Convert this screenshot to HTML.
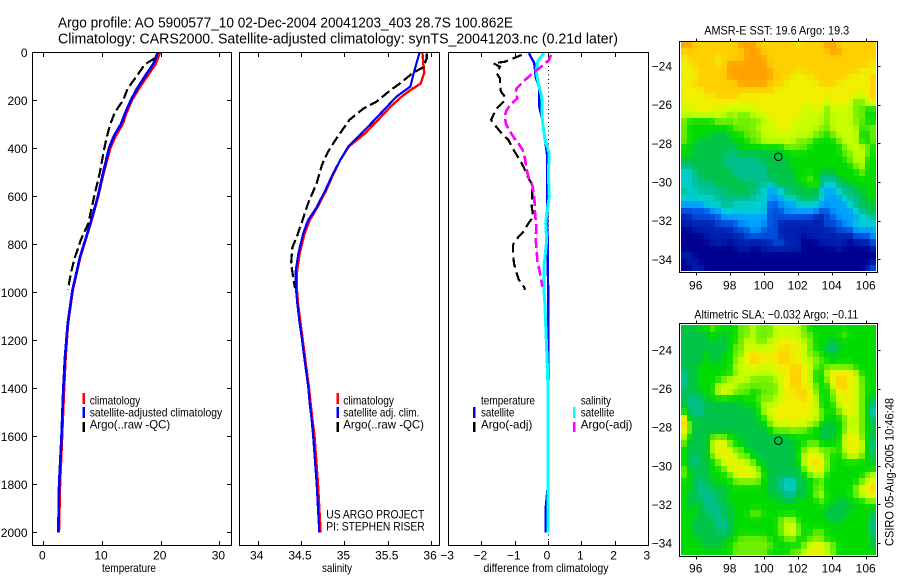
<!DOCTYPE html>
<html lang="en">
<head>
<meta charset="utf-8">
<title>Argo profile 5900577_10</title>
<style>
html,body{margin:0;padding:0;background:#fff;}
svg{display:block;}
text{font-family:"Liberation Sans",sans-serif;font-size:12px;fill:#000;}
.box{fill:none;stroke:#000;stroke-width:1;shape-rendering:crispEdges;}
.bar{stroke-width:2.5;shape-rendering:crispEdges;}
</style>
</head>
<body>
<svg id="chart" xmlns="http://www.w3.org/2000/svg" width="900" height="580" viewBox="0 0 900 580">
  <rect x="0" y="0" width="900" height="580" fill="#fff"/>
  <text x="58" y="27.5" style="font-size:14.5px" textLength="455" lengthAdjust="spacingAndGlyphs">Argo profile: AO 5900577_10 02-Dec-2004 20041203_403 28.7S 100.862E</text>
  <text x="58" y="43.5" style="font-size:14.5px" textLength="560" lengthAdjust="spacingAndGlyphs">Climatology: CARS2000. Satellite-adjusted climatology: synTS_20041203.nc (0.21d later)</text>

  <g id="layer-maps"></g>
  <g id="layer-lines"></g>
  <g id="layer-axes"></g>

  <rect class="box" x="32.5" y="52.5" width="199" height="493"/>
  <rect class="box" x="239.5" y="52.5" width="200" height="493"/>
  <rect class="box" x="448.5" y="52.5" width="200" height="493"/>
  <rect class="box" x="679.5" y="41.5" width="198" height="231"/>
  <rect class="box" x="679.5" y="323.5" width="198" height="233"/>

  <text x="129" y="572" text-anchor="middle" textLength="54" lengthAdjust="spacingAndGlyphs">temperature</text>
  <text x="337" y="572" text-anchor="middle" textLength="30" lengthAdjust="spacingAndGlyphs">salinity</text>
  <text x="546" y="572" text-anchor="middle" textLength="125" lengthAdjust="spacingAndGlyphs">difference from climatology</text>

  <g>
    <line class="bar" x1="83.5" x2="83.5" y1="393" y2="404" stroke="#ff0000"/>
    <line class="bar" x1="83.5" x2="83.5" y1="407" y2="418" stroke="#0000ff"/>
    <line class="bar" x1="83.5" x2="83.5" y1="422" y2="432" stroke="#000"/>
    <text x="89.7" y="404.5" textLength="50.5" lengthAdjust="spacingAndGlyphs">climatology</text>
    <text x="89.7" y="416.5" textLength="132.5" lengthAdjust="spacingAndGlyphs">satellite-adjusted climatology</text>
    <text x="89.7" y="428.5" textLength="80.5" lengthAdjust="spacingAndGlyphs">Argo(..raw -QC)</text>
  </g>
  <g>
    <line class="bar" x1="337.7" x2="337.7" y1="393" y2="404" stroke="#ff0000"/>
    <line class="bar" x1="337.7" x2="337.7" y1="407" y2="418" stroke="#0000ff"/>
    <line class="bar" x1="337.7" x2="337.7" y1="422" y2="432" stroke="#000"/>
    <text x="343.3" y="404.5" textLength="50.7" lengthAdjust="spacingAndGlyphs">climatology</text>
    <text x="343.3" y="416.5" textLength="76" lengthAdjust="spacingAndGlyphs">satellite adj. clim.</text>
    <text x="343.3" y="428.5" textLength="80.7" lengthAdjust="spacingAndGlyphs">Argo(..raw -QC)</text>
  </g>
  <text x="326.3" y="518.5" textLength="98" lengthAdjust="spacingAndGlyphs">US ARGO PROJECT</text>
  <text x="326.3" y="530.5" textLength="98.4" lengthAdjust="spacingAndGlyphs">PI: STEPHEN RISER</text>

  <g>
    <line class="bar" x1="474" x2="474" y1="407" y2="418" stroke="#0000ff"/>
    <line class="bar" x1="474" x2="474" y1="422" y2="432" stroke="#000"/>
    <text x="481" y="404.5" textLength="54" lengthAdjust="spacingAndGlyphs">temperature</text>
    <text x="481" y="416.5" textLength="33.3" lengthAdjust="spacingAndGlyphs">satellite</text>
    <text x="481" y="428.5" textLength="51.3" lengthAdjust="spacingAndGlyphs">Argo(-adj)</text>
    <line class="bar" x1="574" x2="574" y1="407" y2="418" stroke="#00ffff"/>
    <line class="bar" x1="574" x2="574" y1="422" y2="432" stroke="#ff00ff"/>
    <text x="580.7" y="404.5" textLength="30.3" lengthAdjust="spacingAndGlyphs">salinity</text>
    <text x="580.7" y="416.5" textLength="33.7" lengthAdjust="spacingAndGlyphs">satellite</text>
    <text x="580.7" y="428.5" textLength="51.7" lengthAdjust="spacingAndGlyphs">Argo(-adj)</text>
  </g>

  <text x="776.7" y="34.5" text-anchor="middle" textLength="145" lengthAdjust="spacingAndGlyphs">AMSR-E SST: 19.6 Argo: 19.3</text>
  <text x="776.3" y="318.5" text-anchor="middle" textLength="164" lengthAdjust="spacingAndGlyphs">Altimetric SLA: −0.032 Argo: −0.11</text>
  <text transform="translate(893.5,472) rotate(-90)" text-anchor="middle" textLength="148" lengthAdjust="spacingAndGlyphs">CSIRO 05-Aug-2005 10:46:48</text>
</svg>

<script>
/* ---------- profile data ---------- */
const climTempDepths = [0,50,100,150,200,250,300,350,400,500,600,714,853,992,1131,1270,1400,1600,1800,2000];
const climTempValues = [19.9,19.1,17.7,16.3,15.1,14.2,13.5,12.3,11.4,10.3,9.35,8.05,6.3,5.0,4.2,3.8,3.55,3.2,2.85,2.65];
const satTempValues  = [19.5,18.7,17.3,16.0,14.9,14.0,13.2,12.0,11.2,10.2,9.3,8.0,6.25,4.95,4.15,3.7,3.4,3.1,2.7,2.55];
const argoTempDepths = [25,50,100,150,200,250,300,350,400,500,596,714,783,853,906,963,988];
const argoTempValues = [19.0,17.3,15.9,14.4,13.6,12.2,11.4,10.85,10.4,9.65,8.7,7.65,6.37,5.4,4.84,4.37,4.25];

const satSalDepths = [3,86,143,185,227,281,337,393,450,505,575,645,700,755,838,908,977,1046,1117,1188,1254,1325,1396,1463,1525,1600,1800,2000];
const satSalValues = [35.865,35.8,35.76,35.6,35.49,35.35,35.2,35.045,34.95,34.87,34.78,34.68,34.58,34.525,34.47,34.44,34.44,34.457,34.48,34.507,34.53,34.557,34.584,34.6,34.62,34.64,34.68,34.71];
const climSalDepths = [3,86,130,158,185,227,281,337,393,450,505,575,645,700,755,838,908,977,1046,1117,1188,1254,1325,1396,1463,1525,1600,1800,2000];
const climSalValues = [35.9,35.92,35.88,35.76,35.66,35.53,35.39,35.24,35.05,34.95,34.875,34.79,34.69,34.6,34.54,34.485,34.455,34.45,34.465,34.49,34.515,34.54,34.565,34.59,34.61,34.63,34.655,34.695,34.725];
const argoSalDepths = [5,25,62,86,130,158,206,234,281,358,415,470,545,630,707,770,812,880,937,983];
const argoSalValues = [35.95,35.95,35.91,35.79,35.64,35.53,35.37,35.22,35.06,34.91,34.81,34.74,34.68,34.58,34.51,34.45,34.40,34.385,34.41,34.43];

const diffSatTempDepths = [4,46,102,150,227,282,338,393,435,643,836,1060,1400,1600,1800,1900,2000];
const diffSatTempValues = [-0.57,-0.41,-0.37,-0.26,-0.26,-0.17,-0.12,-0.06,-0.02,-0.02,-0.01,0.01,0.01,0.01,0,-0.07,-0.07];
const diffSatSalDepths = [4,32,74,130,185,282,365,421,504,602,671,713,782,893,990,1060,1200,1300,1400,2000];
const diffSatSalValues = [-0.12,-0.29,-0.36,-0.29,-0.19,-0.17,-0.09,0.04,0.01,0.04,-0.04,-0.07,-0.04,-0.12,-0.12,-0.09,-0.05,-0.02,0,0];
const diffArgoTempDepths = [11,25,39,46,60,88,109,136,164,185,206,234,261,282,313,338,365,393,428,449,484,518,553,588,643,685,713,747,782,803,838,880,921,949,977,990];
const diffArgoTempValues = [-0.79,-1.04,-1.29,-1.64,-1.44,-1.54,-1.44,-1.44,-1.41,-1.29,-1.34,-1.54,-1.64,-1.71,-1.54,-1.39,-1.19,-1.09,-0.94,-0.84,-0.71,-0.61,-0.47,-0.47,-0.49,-0.44,-0.59,-0.74,-0.97,-1.05,-1.05,-1.02,-0.94,-0.87,-0.72,-0.69];
const diffArgoSalDepths = [11,32,53,74,88,116,150,164,192,213,240,261,296,324,352,380,407,442,477,518,553,602,671,727,782,824,866,907,935,977];
const diffArgoSalValues = [0.09,0.03,-0.14,-0.34,-0.47,-0.69,-0.94,-0.97,-0.92,-1.09,-1.24,-1.29,-1.27,-1.17,-1.04,-0.89,-0.76,-0.69,-0.66,-0.59,-0.47,-0.41,-0.39,-0.35,-0.37,-0.34,-0.32,-0.26,-0.22,-0.17];

/* ---------- tick labels ---------- */
const depthTicks = [0,200,400,600,800,1000,1200,1400,1600,1800,2000];
const tempTicks = [0,10,20,30];
const salTicks = [34,34.5,35,35.5,36];
const diffTicks = [-3,-2,-1,0,1,2,3];
const lonTicks = [96,98,100,102,104,106];
const latTicks = [-24,-26,-28,-30,-32,-34];
const floatLon = [100.862];
const floatLat = [-28.7];

/* ---------- map grids: colour level per cell, north to south ---------- */
const sstGrid = [
[12,12,11,11,11,11,11,11,11,11,12,12,12,11,11,11,11,11,11,11,10,11,11,11,11,12,12,11,11,11,11,11,11,11],
[11,11,11,11,11,11,11,11,11,11,11,12,12,12,11,11,11,11,11,11,11,11,11,11,11,11,12,12,11,11,11,11,11,11],
[10,11,11,11,11,11,10,11,11,11,11,12,12,12,12,11,11,11,11,11,11,11,11,11,11,11,11,11,11,11,11,11,11,11],
[10,10,11,11,11,11,10,11,12,12,12,12,12,12,12,11,11,11,11,11,11,11,11,11,11,11,11,11,11,11,11,11,11,10],
[10,10,10,11,11,11,11,11,12,12,12,12,12,12,12,12,11,11,11,11,10,11,11,11,11,11,11,11,11,11,11,10,10,10],
[10,10,10,11,11,11,11,11,12,12,12,12,12,12,12,12,11,11,11,10,10,10,10,11,11,11,11,11,11,10,10,10,10,11],
[10,10,11,11,11,11,11,11,11,11,12,12,12,12,12,11,11,11,10,10,10,10,10,10,11,11,11,10,10,10,10,10,10,11],
[10,10,10,10,11,11,11,11,11,11,11,11,11,11,11,11,10,10,10,10,10,10,10,10,10,10,10,10,10,10,10,10,10,11],
[10,10,10,10,10,10,11,11,11,11,10,10,10,10,10,10,10,10,10,10,10,10,10,10,10,10,10,10,10,10,9,9,10,11],
[10,10,10,10,10,10,10,10,10,10,10,10,10,10,10,10,10,10,10,10,10,10,10,10,10,9,10,10,10,9,8,8,9,10],
[9,9,10,10,10,10,10,9,9,9,9,9,9,10,10,10,10,10,10,10,10,9,9,10,9,8,9,9,9,9,8,8,7,7],
[9,9,9,9,9,9,9,9,8,9,8,8,9,9,9,10,10,10,10,10,10,9,9,9,9,8,9,9,9,9,8,8,7,7],
[8,7,7,7,7,7,8,8,8,8,8,8,8,8,9,9,10,10,10,10,9,9,9,9,9,8,9,9,9,9,8,8,7,7],
[8,7,7,7,7,7,7,7,7,8,8,8,8,9,9,9,9,10,10,9,9,9,9,9,8,8,9,9,9,9,9,7,8,8],
[8,7,7,7,7,6,6,6,7,7,7,8,8,8,9,9,9,9,9,9,9,9,9,8,8,7,8,9,9,9,9,7,7,8],
[8,7,7,6,6,6,6,6,6,7,7,7,8,8,9,9,9,9,9,9,8,8,8,7,7,7,7,8,9,9,9,7,7,8],
[7,7,6,6,6,6,6,6,6,6,7,7,7,7,7,7,7,7,8,8,8,8,7,7,7,7,7,7,8,9,9,9,8,7],
[7,7,6,6,6,6,6,6,5,5,6,6,6,6,6,6,6,6,7,7,7,7,7,7,7,7,7,7,8,8,9,9,8,7],
[6,6,6,6,6,6,6,5,5,5,5,5,5,5,6,6,6,6,6,7,7,7,7,7,7,7,7,7,7,8,9,9,7,7],
[5,5,6,6,6,6,6,6,5,5,5,5,5,5,5,6,6,6,6,7,7,7,7,7,7,7,7,7,7,7,8,9,7,7],
[4,4,5,6,6,6,6,6,6,5,5,5,5,5,5,6,6,6,6,6,7,7,7,7,6,6,6,7,7,7,7,8,7,7],
[4,4,5,5,6,6,6,6,6,6,5,5,5,5,5,6,6,6,6,6,7,7,8,7,5,5,5,6,7,7,7,7,7,7],
[4,4,5,5,5,5,6,6,6,6,6,6,6,5,5,4,5,6,6,6,6,7,7,8,5,4,4,5,6,6,7,7,7,7],
[5,4,4,5,5,5,5,5,6,6,6,6,5,5,4,3,3,4,5,6,6,6,6,6,4,3,3,4,5,5,6,6,7,7],
[4,4,4,4,4,4,5,5,5,5,5,5,5,4,4,3,3,3,4,4,5,6,6,5,4,3,3,3,4,5,5,6,6,7],
[3,3,3,3,4,4,4,5,5,4,4,4,4,4,4,2,2,3,3,3,4,4,4,4,3,3,3,3,3,4,5,6,6,6],
[2,2,2,2,2,3,3,4,4,4,4,4,4,4,4,2,2,2,3,3,3,3,3,3,2,2,3,3,3,3,4,5,6,6],
[1,1,2,2,2,2,2,3,3,3,3,3,3,3,3,2,2,2,2,2,2,2,2,1,1,2,2,3,3,3,3,4,4,5],
[1,1,1,1,1,1,2,2,2,2,3,3,3,3,3,2,2,1,1,1,1,1,1,1,1,2,2,2,3,3,4,4,4,4],
[0,0,1,1,1,1,1,1,1,2,2,2,3,3,2,2,2,1,1,1,1,1,1,1,1,1,1,2,2,2,3,3,3,3],
[0,0,0,0,1,1,1,1,1,1,1,2,2,2,2,2,2,1,1,1,1,0,1,1,1,1,1,1,1,1,2,2,2,3],
[0,0,0,0,0,1,1,1,0,1,1,1,1,1,1,1,2,2,1,1,1,0,0,0,1,1,1,1,1,0,1,1,1,2],
[0,0,0,0,0,0,0,0,0,0,1,1,0,0,1,1,1,1,1,1,1,0,0,0,0,0,0,1,0,0,0,0,0,1],
[1,1,0,0,0,0,0,0,0,0,0,0,0,0,0,0,0,0,0,0,0,0,0,0,0,0,0,0,0,0,0,0,0,0],
[0,1,1,0,0,0,0,0,0,0,0,0,0,0,0,0,0,0,0,0,0,0,0,0,0,0,0,0,0,0,0,0,0,1],
[0,0,1,1,0,0,0,0,0,0,0,0,0,0,0,0,0,0,0,0,0,0,0,0,0,0,0,0,0,0,0,0,1,2]
];
const slaGrid = [
[6,6,6,7,7,8,7,7,7,7,8,8,9,8,8,8,9,9,9,9,9,8,7,7,7,7,7,7,7,7,7,7,7,7],
[6,6,6,6,6,7,7,6,7,7,8,8,9,8,8,8,9,9,9,9,9,8,8,7,7,7,7,7,8,7,7,7,7,7],
[6,6,6,6,6,7,6,6,7,7,8,9,9,8,8,9,9,10,10,10,9,9,8,7,7,7,6,7,7,7,7,7,7,7],
[6,6,6,6,6,6,6,6,7,8,8,9,9,9,9,9,10,10,11,10,10,9,8,7,7,6,5,6,7,7,7,7,7,7],
[6,6,6,6,7,6,6,7,7,8,8,10,11,10,10,10,10,11,11,10,10,9,8,8,7,7,6,7,7,7,7,7,7,7],
[6,6,6,6,7,6,6,7,7,8,9,10,11,11,10,10,10,11,11,10,10,9,9,8,8,7,7,7,7,7,7,7,7,7],
[6,6,6,7,7,7,7,7,7,9,9,9,10,9,9,9,10,10,10,11,11,10,9,8,7,8,8,8,8,8,7,7,7,7],
[5,6,6,7,7,7,7,7,7,8,9,9,9,9,9,9,9,10,10,11,11,10,9,7,7,9,10,10,10,10,9,7,7,7],
[5,6,6,7,7,7,7,8,9,9,9,9,8,8,8,8,9,9,10,11,11,10,9,7,7,8,10,11,11,10,9,8,7,7],
[5,6,6,7,7,7,9,9,9,9,8,8,8,8,8,8,8,9,10,11,11,10,9,8,7,7,9,11,11,10,9,8,7,7],
[6,6,6,6,7,7,9,10,9,8,8,8,7,7,8,8,8,9,10,10,11,11,10,8,7,7,8,10,10,10,9,8,7,7],
[6,5,5,6,6,7,7,7,7,7,7,7,7,8,8,8,9,9,10,10,10,11,10,9,7,7,8,9,10,10,9,8,7,6],
[6,5,5,5,6,6,6,6,6,6,6,7,7,7,9,9,9,10,10,10,10,10,10,9,7,7,7,9,10,10,9,8,7,5],
[7,6,5,5,6,6,6,6,6,6,6,6,6,7,9,9,10,10,10,10,10,10,10,9,8,7,7,8,9,10,9,8,7,4],
[11,6,6,6,6,6,6,6,6,6,6,6,6,7,7,9,10,10,10,10,10,10,9,9,8,7,7,7,8,9,9,8,7,5],
[11,8,6,6,6,6,6,6,6,6,6,6,6,6,7,8,9,9,9,10,9,9,9,8,7,6,6,7,8,9,9,8,7,6],
[10,8,6,6,6,6,6,6,6,6,6,6,6,6,6,7,8,8,8,8,8,8,7,7,6,6,6,7,8,9,9,8,7,6],
[9,7,6,6,6,8,8,8,7,7,6,6,6,6,6,6,6,6,6,7,7,7,7,7,6,6,6,7,9,10,10,8,7,6],
[8,6,6,6,6,9,10,10,8,7,7,6,6,6,6,6,6,6,6,6,7,7,8,8,7,7,7,7,9,10,10,9,7,5],
[7,6,6,6,6,9,10,10,9,8,8,7,6,6,6,6,6,6,6,6,7,8,9,9,8,8,8,7,9,10,10,9,7,5],
[7,6,5,6,6,8,9,10,10,9,8,8,7,6,6,6,6,6,6,6,7,9,10,10,9,8,7,7,8,9,9,8,7,6],
[7,6,5,6,6,7,8,9,10,10,9,9,8,7,6,6,6,6,6,6,7,9,10,11,10,8,7,7,7,7,7,7,7,6],
[8,6,6,6,6,7,7,8,9,10,10,10,9,8,7,6,6,6,6,6,6,8,9,10,10,8,7,7,7,7,7,7,7,7],
[8,7,6,6,6,7,7,7,8,9,10,10,10,9,7,6,6,6,6,6,6,7,8,9,9,7,7,7,7,7,7,7,8,9],
[7,7,6,5,6,6,7,7,7,8,8,8,8,8,7,6,6,5,4,4,6,6,7,7,8,7,7,7,7,7,7,8,9,10],
[7,7,6,5,5,6,6,6,7,7,7,7,7,7,7,6,6,5,4,4,6,6,7,8,8,7,7,7,7,7,8,10,10,11],
[7,6,6,5,5,5,6,6,7,7,7,7,7,7,7,6,6,6,5,5,6,6,7,8,9,7,7,7,7,7,8,9,10,10],
[7,6,6,6,5,5,6,6,7,7,7,7,7,7,7,7,7,6,6,6,7,7,7,7,8,7,7,6,6,7,7,7,8,8],
[7,6,7,6,5,5,5,6,6,7,7,7,7,7,7,7,7,7,7,7,7,7,7,7,7,7,6,6,6,6,7,7,7,7],
[7,7,7,6,6,5,5,6,6,7,7,7,8,8,7,7,7,7,7,7,7,7,7,7,7,6,6,6,6,7,7,7,7,6],
[7,7,6,6,6,6,5,5,6,7,7,7,7,7,7,7,7,8,9,9,7,7,7,7,7,7,6,6,7,7,7,7,7,5],
[7,7,6,6,6,6,5,5,6,7,7,7,7,7,7,7,7,8,9,9,8,7,7,7,7,7,7,7,7,7,7,7,7,5],
[7,7,6,6,6,6,6,5,6,7,7,7,7,7,7,7,7,8,9,10,8,7,7,8,8,7,7,7,7,7,7,7,7,5],
[7,7,7,6,6,6,6,6,7,7,8,8,8,8,8,7,7,7,8,8,7,7,8,8,8,7,7,7,7,7,7,7,7,6],
[7,7,7,7,6,6,6,7,7,8,8,8,8,8,8,8,7,7,7,7,7,8,9,10,10,9,8,7,7,7,7,7,7,6],
[7,7,7,7,7,7,7,7,7,8,8,8,8,8,8,7,7,7,7,8,8,9,10,10,9,9,8,7,7,7,7,7,7,7]
];

/* ---------- axis functions ---------- */
const NS = 'http://www.w3.org/2000/svg';
const depthY = d => 52.3 + d * 0.24;
const tempX = t => 43.3 + t * 5.87;
const salX = s => 257.7 + (s - 34) * 86.7;
const diffX = v => 548 + v * 33.3;
const lonX = lon => 695.7 + (lon - 96) * 17;
const sstLatY = lat => 66 + (-24 - lat) * 19.33;
const slaLatY = lat => 350 + (-24 - lat) * 19.3;

/* Continuous colour scale over the level range */
function levelColor(level) {
  const palette = [[0,0,144],[0,32,176],[0,80,224],[0,160,255],[0,208,208],[0,192,144],[0,196,72],[0,220,0],[112,240,0],[200,255,0],[240,240,0],[255,208,0],[255,160,0]];
  const low = Math.max(0, Math.min(palette.length - 1, Math.floor(level)));
  const high = Math.min(palette.length - 1, low + 1);
  const f = level - low;
  const mix = palette[low].map((v, i) => Math.round(v + (palette[high][i] - v) * f));
  return 'rgb(' + mix.join(',') + ')';
}
/* Softens the cell edge against its four neighbours, as the source image does */
function displayLevel(grid, r, c) {
  const at = (rr, cc) => grid[Math.max(0, Math.min(grid.length - 1, rr))][Math.max(0, Math.min(grid[0].length - 1, cc))];
  return (4 * at(r, c) + at(r - 1, c) + at(r + 1, c) + at(r, c - 1) + at(r, c + 1)) / 8;
}
function make(tag, attrs, parent) {
  const node = document.createElementNS(NS, tag);
  for (const key in attrs) node.setAttribute(key, attrs[key]);
  parent.appendChild(node);
  return node;
}

const linesLayer = document.getElementById('layer-lines');
const axesLayer = document.getElementById('layer-axes');
const mapsLayer = document.getElementById('layer-maps');

/* ---------- series ---------- */
function drawSeries(name, depths, values, xFn, color, width, dash) {
  const pts = depths.map((d, i) => xFn(values[i]).toFixed(1) + ',' + depthY(d).toFixed(1)).join(' ');
  const line = make('polyline', {points: pts, fill: 'none', stroke: color, 'stroke-width': width, 'shape-rendering': 'crispEdges'}, linesLayer);
  if (dash) line.setAttribute('stroke-dasharray', dash);
  
  
}

const zeroLine = make('line', {x1: diffX(0) + 0.5, x2: diffX(0) + 0.5, y1: 53, y2: 545, stroke: '#000', 'stroke-width': 1, 'stroke-dasharray': '1 3.3', 'shape-rendering': 'crispEdges'}, linesLayer);



drawSeries('temperature-climatology-line', climTempDepths, climTempValues, tempX, '#ff0000', 2.6);
drawSeries('temperature-satellite-line', climTempDepths, satTempValues, tempX, '#0000ff', 2.6);
drawSeries('temperature-argo-line', argoTempDepths, argoTempValues, tempX, '#000', 2.2, '10 4');
drawSeries('salinity-climatology-line', climSalDepths, climSalValues, salX, '#ff0000', 2.4);
drawSeries('salinity-satellite-line', satSalDepths, satSalValues, salX, '#0000ff', 2.2);
drawSeries('salinity-argo-line', argoSalDepths, argoSalValues, salX, '#000', 2.2, '10 4');
drawSeries('difference-temperature-satellite-line', diffSatTempDepths, diffSatTempValues, diffX, '#0000ff', 2.4);
drawSeries('difference-salinity-satellite-line', diffSatSalDepths, diffSatSalValues, diffX, '#00ffff', 3);
drawSeries('difference-temperature-argo-line', diffArgoTempDepths, diffArgoTempValues, diffX, '#000', 2.2, '10 5');
drawSeries('difference-salinity-argo-line', diffArgoSalDepths, diffArgoSalValues, diffX, '#ff00ff', 2.6, '10 4');

/* ---------- ticks and labels ---------- */
function tick(name, x1, y1, x2, y2) {
  const t = make('line', {x1: x1, y1: y1, x2: x2, y2: y2, stroke: '#000', 'stroke-width': 1, 'shape-rendering': 'crispEdges'}, axesLayer);
  
  
}
function label(name, x, y, anchor, str) {
  const t = make('text', {x: x, y: y, 'text-anchor': anchor}, axesLayer);
  t.textContent = str;
  
  
}
function px(v) { return Math.round(v) + 0.5; }
function fmt(v) { return v < 0 ? '\u2212' + Math.abs(v) : String(v); }

depthTicks.forEach(d => {
  const y = px(depthY(d));
  tick('depth-tick', 32.5, y, 37, y);
  tick('depth-tick-right', 231.5, y, 227, y);
  label('depth-tick-label', 27.5, depthY(d) + 4.5, 'end', String(d));
});
function xAxis(prefix, ticks, xFn, formatter) {
  ticks.forEach(v => {
    const x = px(xFn(v));
    tick(prefix + '-tick-top', x, 52.5, x, 57);
    tick(prefix + '-tick-bottom', x, 545.5, x, 541);
    label(prefix + '-tick-label', xFn(v) - 1, 559.5, 'middle', formatter(v));
  });
}
xAxis('temperature', tempTicks, tempX, fmt);
xAxis('salinity', salTicks, salX, fmt);
xAxis('difference', diffTicks, diffX, fmt);

/* ---------- maps ---------- */
function drawMap(prefix, grid, latY, topLat, top, bottom, left, right, labelY) {
  const cols = grid[0].length;
  const lonWest = 95.135, lonEast = 106.605, latSouth = -34.62;
  grid.forEach((row, r) => {
    row.forEach((level, c) => {
      const x0 = Math.round(lonX(lonWest + (lonEast - lonWest) * c / cols));
      const x1 = Math.round(lonX(lonWest + (lonEast - lonWest) * (c + 1) / cols));
      const y0 = Math.round(latY(topLat + (latSouth - topLat) * r / grid.length));
      const y1 = Math.round(latY(topLat + (latSouth - topLat) * (r + 1) / grid.length));
      const cell = make('rect', {x: x0, y: y0, width: x1 - x0, height: y1 - y0, fill: levelColor(displayLevel(grid, r, c)), 'shape-rendering': 'crispEdges'}, mapsLayer);
      
      
    });
  });
  lonTicks.forEach(lon => {
    const x = px(lonX(lon));
    tick(prefix + '-lon-tick-top', x, top, x, top - 3);
    tick(prefix + '-lon-tick-bottom', x, bottom, x, bottom + 3);
    label(prefix + '-lon-label', lonX(lon), labelY, 'middle', String(lon));
  });
  latTicks.forEach(lat => {
    const y = px(latY(lat));
    tick(prefix + '-lat-tick', right, y, right + 3, y);
    label(prefix + '-lat-label', 672, latY(lat) + 4.5, 'end', fmt(lat));
  });
  floatLon.forEach((lon, i) => {
    const marker = make('circle', {cx: lonX(lon), cy: latY(floatLat[i]), r: 3.8, fill: 'none', stroke: '#000', 'stroke-width': 1}, axesLayer);
    
    
  });
}
drawMap('sst-map', sstGrid, sstLatY, -22.76, 41.5, 272.5, 679.5, 877.5, 289.5);
drawMap('sla-map', slaGrid, slaLatY, -22.72, 323.5, 556.5, 679.5, 877.5, 572.5);
</script>
</body>
</html>
